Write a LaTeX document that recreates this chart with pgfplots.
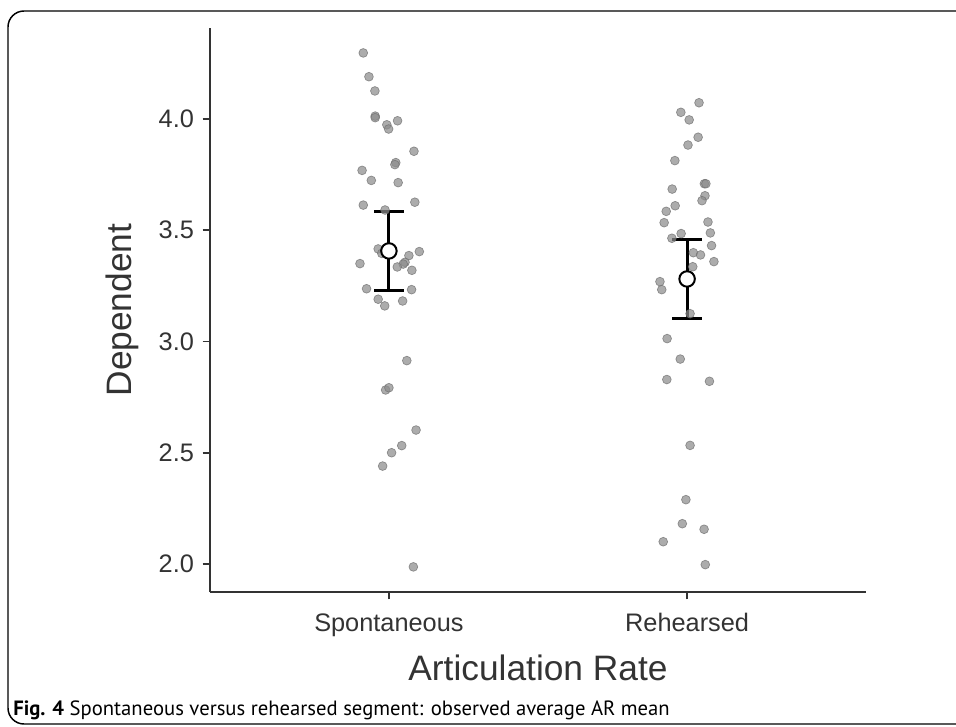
\documentclass[border=0pt]{standalone}
\usepackage{pgfplots}
\pgfplotsset{compat=1.18}
\usepackage{fontspec}
\setmainfont{Liberation Sans}
\newfontfamily\capfont{PT Sans}

\definecolor{axisgrey}{HTML}{333333}
\definecolor{dotfill}{HTML}{8C8C8C}
\definecolor{dotline}{HTML}{6E6E6E}

\begin{document}
\begin{tikzpicture}[x=0.75pt, y=0.75pt]
% page = 956 x 726 px, 1 px = 0.75 pt
\useasboundingbox (0,0) rectangle (956,726);
\draw[line width=1.1pt, rounded corners=12pt] (8,2) rectangle (990,715);

\begin{axis}[
    at={(157.5pt,100.5pt)}, anchor=south west,
    scale only axis,
    width=492pt, height=423pt,
    xmin=0.4, xmax=2.6,
    ymin=1.874, ymax=4.409,
    axis lines=left,
    axis line style={axisgrey, line width=1.4pt, -},
    tick align=outside,
    major tick length=5.5pt,
    tick style={axisgrey, line width=1.4pt},
    xtick={1,2},
    xticklabels={Spontaneous, Rehearsed},
    ytick={2,2.5,3,3.5,4},
    yticklabels={2.0,2.5,3.0,3.5,4.0},
    tick label style={font=\fontsize{19}{21}\selectfont, text=axisgrey},
    xticklabel style={yshift=-7pt},
    yticklabel style={xshift=-3pt},
    xlabel={Articulation Rate},
    ylabel={Dependent},
    label style={font=\fontsize{26.5}{30}\selectfont, text=axisgrey},
    xlabel style={at={(axis description cs:0.5,-0.135)}, anchor=center},
    ylabel style={at={(axis description cs:-0.133,0.5)}, anchor=center},
    clip=false,
]

% jittered observations, Spontaneous
\addplot[only marks, mark=*, mark size=3.3pt,
    mark options={fill=dotfill, draw=dotline, fill opacity=0.72, draw opacity=0.72, line width=0.5pt}]
coordinates {
(0.914,4.297) (0.933,4.190) (0.953,4.126) (0.954,4.013) (0.954,4.006)
(0.993,3.974) (0.999,3.955) (1.029,3.992) (1.084,3.855) (1.023,3.804)
(1.020,3.795) (0.910,3.769) (0.941,3.724) (1.031,3.714) (0.914,3.613)
(1.087,3.626) (0.987,3.591) (0.964,3.416) (0.976,3.396) (0.903,3.350)
(1.067,3.386) (1.102,3.404) (1.054,3.356) (1.048,3.348) (1.028,3.335)
(1.077,3.320) (0.925,3.237) (1.076,3.233) (0.964,3.190) (0.986,3.160)
(1.046,3.182) (1.060,2.914) (0.989,2.782) (1.000,2.792) (1.091,2.602)
(1.043,2.532) (1.009,2.500) (0.979,2.440) (1.082,1.987)
};

% jittered observations, Rehearsed
\addplot[only marks, mark=*, mark size=3.3pt,
    mark options={fill=dotfill, draw=dotline, fill opacity=0.72, draw opacity=0.72, line width=0.5pt}]
coordinates {
(2.040,4.073) (1.979,4.030) (2.007,3.996) (2.037,3.918) (2.003,3.883)
(1.959,3.813) (2.058,3.709) (2.063,3.709) (1.950,3.685) (2.060,3.655)
(2.050,3.633) (1.960,3.610) (1.930,3.585) (1.923,3.534) (2.070,3.537)
(2.078,3.488) (1.980,3.485) (1.949,3.464) (2.082,3.431) (2.021,3.399)
(2.045,3.389) (2.090,3.359) (2.019,3.336) (1.909,3.269) (1.915,3.233)
(2.010,3.125) (1.933,3.013) (1.977,2.921) (1.932,2.829) (2.075,2.821)
(2.010,2.533) (1.996,2.289) (1.984,2.181) (2.057,2.156) (1.920,2.100)
(2.061,1.997)
};

% means with error bars
\addplot[only marks, mark=*, mark size=5.8pt,
    mark options={fill=white, draw=black, line width=1.5pt},
    error bars/.cd, y dir=both, y explicit,
    error bar style={black, line width=2.2pt},
    error mark options={rotate=90, mark size=11pt, line width=2.2pt, black}]
coordinates {
(1,3.407) +- (0,0.176)
(2,3.281) +- (0,0.176)
};
\end{axis}

\node[anchor=base west, inner sep=0pt] at (13,11)
  {\capfont\fontsize{15.5}{17}\selectfont\scalebox{1.0}[1]{\textbf{Fig. 4} Spontaneous versus rehearsed segment: observed average AR mean}};
\end{tikzpicture}
\end{document}
